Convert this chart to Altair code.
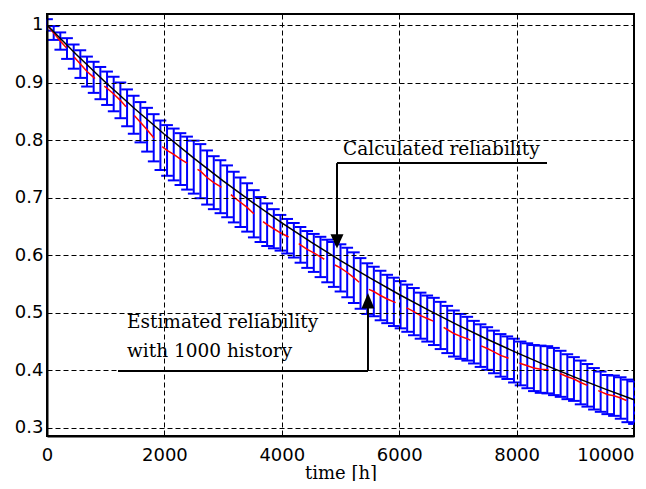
import altair as alt
import pandas as pd

# time points of the Monte-Carlo estimate (h)
times = [0, 114, 227, 341, 455, 568, 682, 795, 909, 1023, 1136, 1250, 1364, 1477, 1591, 1705, 1818, 1932,
         2045, 2159, 2273, 2386, 2500, 2614, 2727, 2841, 2955, 3068, 3182, 3295, 3409, 3523, 3636, 3750,
         3864, 3977, 4091, 4205, 4318, 4432, 4545, 4659, 4773, 4886, 5000, 5114, 5227, 5341, 5455, 5568,
         5682, 5795, 5909, 6023, 6136, 6250, 6364, 6477, 6591, 6705, 6818, 6932, 7045, 7159, 7273, 7386,
         7500, 7614, 7727, 7841, 7955, 8068, 8182, 8295, 8409, 8523, 8636, 8750, 8864, 8977, 9091, 9205,
         9318, 9432, 9545, 9659, 9773, 9886, 10000]

# estimated reliability (red)
estimated = [1.000, 0.986, 0.972, 0.959, 0.945, 0.932, 0.919, 0.909, 0.899, 0.890,
             0.880, 0.869, 0.856, 0.844, 0.831, 0.818, 0.804, 0.791, 0.782, 0.775,
             0.767, 0.760, 0.753, 0.746, 0.735, 0.726, 0.719, 0.711, 0.701, 0.692,
             0.683, 0.672, 0.662, 0.653, 0.646, 0.639, 0.633, 0.626, 0.618, 0.610,
             0.604, 0.597, 0.590, 0.584, 0.578, 0.570, 0.561, 0.551, 0.542, 0.537,
             0.530, 0.524, 0.519, 0.514, 0.508, 0.502, 0.495, 0.490, 0.485, 0.478,
             0.471, 0.464, 0.459, 0.455, 0.449, 0.443, 0.438, 0.432, 0.426, 0.422,
             0.417, 0.412, 0.408, 0.404, 0.402, 0.401, 0.398, 0.394, 0.389, 0.385,
             0.379, 0.374, 0.368, 0.363, 0.358, 0.356, 0.352, 0.347, 0.344]

# half length of the error bars (blue)
half_width = [0.010, 0.012, 0.015, 0.018, 0.021, 0.024, 0.026, 0.027, 0.028, 0.029,
              0.030, 0.031, 0.032, 0.033, 0.035, 0.038, 0.041, 0.043, 0.044, 0.045,
              0.045, 0.046, 0.046, 0.047, 0.047, 0.046, 0.046, 0.045, 0.044, 0.043,
              0.042, 0.041, 0.039, 0.037, 0.034, 0.031, 0.030, 0.030, 0.031, 0.032,
              0.033, 0.035, 0.037, 0.039, 0.041, 0.043, 0.044, 0.044, 0.044, 0.043,
              0.043, 0.042, 0.042, 0.041, 0.041, 0.041, 0.040, 0.040, 0.041, 0.041,
              0.041, 0.040, 0.039, 0.038, 0.037, 0.037, 0.037, 0.037, 0.037, 0.037,
              0.038, 0.038, 0.039, 0.040, 0.041, 0.041, 0.041, 0.040, 0.039, 0.038,
              0.038, 0.037, 0.036, 0.035, 0.034, 0.035, 0.036, 0.037, 0.037]

# calculated reliability (black)
calc_times = [0, 500, 1000, 1500, 2000, 2500, 3000, 3500, 4000, 4500, 5000, 5500, 6000, 6500, 7000,
              7500, 8000, 8500, 9000, 9500, 10000]
calculated = [1.000, 0.9487, 0.9001, 0.8540, 0.8102, 0.7686, 0.7292, 0.6918, 0.6564, 0.6227, 0.5908,
              0.5605, 0.5318, 0.5045, 0.4786, 0.4541, 0.4308, 0.4087, 0.3878, 0.3679, 0.3490]

x_ticks = [0, 2000, 4000, 6000, 8000, 10000]
y_ticks = [0.3, 0.4, 0.5, 0.6, 0.7, 0.8, 0.9, 1.0]

# annotations
ann_lines = [
    {"x": 4940, "x2": 8518, "y": 0.760, "y2": 0.760},
    {"x": 4940, "x2": 4940, "y": 0.760, "y2": 0.630},
    {"x": 1210, "x2": 5468, "y": 0.399, "y2": 0.399},
    {"x": 5468, "x2": 5468, "y": 0.399, "y2": 0.512},
]
ann_down = [{"x": 4940, "y": 0.624}]
ann_up = [{"x": 5468, "y": 0.521}]
ann_text = [
    {"x": 5043, "y": 0.774, "text": "Calculated reliability"},
    {"x": 1363, "y": 0.474, "text": "Estimated reliability"},
    {"x": 1363, "y": 0.423, "text": "with 1000 history"},
]

df = pd.DataFrame({"t": times, "est": estimated, "half": half_width})
dcalc = pd.DataFrame({"t": calc_times, "r": calculated})

xs = alt.Scale(domain=[0, 10000], nice=False, zero=False)
ys = alt.Scale(domain=[0.286, 1.019], nice=False, zero=False)

xaxis = alt.Axis(values=x_ticks, format="d", title="time [h]", grid=True, ticks=False,
                 labelPadding=10, zindex=1, titleY=42, titleBaseline="alphabetic",
                 labelAlign={"condition": {"test": "datum.value == 10000", "value": "right"}, "value": "center"})
yaxis = alt.Axis(values=y_ticks, format="~g", title=None, grid=True, ticks=False,
                 labelPadding=4, zindex=1)


def X(field):
    return alt.X(field, scale=xs, axis=xaxis)


def Y(field):
    return alt.Y(field, scale=ys, axis=yaxis)


base = alt.Chart(df).transform_calculate(
    lo="datum.est - datum.half", hi="datum.est + datum.half",
    a="datum.t - 100", b="datum.t + 100")

blue = "#0000ff"
bars = base.mark_rule(color=blue, strokeWidth=2).encode(x=X("t:Q"), y=Y("lo:Q"), y2="hi:Q")
cap_top = base.mark_rule(color=blue, strokeWidth=2, clip=True).encode(x=X("a:Q"), x2="b:Q", y=Y("hi:Q"))
cap_bot = base.mark_rule(color=blue, strokeWidth=2, clip=True).encode(x=X("a:Q"), x2="b:Q", y=Y("lo:Q"))
red = alt.Chart(df).mark_line(color="#ff0000", strokeWidth=1.5, strokeDash=[30, 12]).encode(
    x=X("t:Q"), y=Y("est:Q"))
black = alt.Chart(dcalc).mark_line(color="black", strokeWidth=1.5).encode(x=X("t:Q"), y=Y("r:Q"))

lines = alt.Chart(pd.DataFrame(ann_lines)).mark_rule(color="black", strokeWidth=2).encode(
    x=X("x:Q"), x2="x2:Q", y=Y("y:Q"), y2="y2:Q")
down = alt.Chart(pd.DataFrame(ann_down)).mark_point(
    shape="M-1,-1.1L1,-1.1L0,1.1Z", size=169, filled=True, color="black", opacity=1).encode(
    x=X("x:Q"), y=Y("y:Q"))
up = alt.Chart(pd.DataFrame(ann_up)).mark_point(
    shape="M-1,1.2L1,1.2L0,-1.2Z", size=169, filled=True, color="black", opacity=1).encode(
    x=X("x:Q"), y=Y("y:Q"))
texts = alt.Chart(pd.DataFrame(ann_text)).mark_text(
    align="left", baseline="alphabetic", font="DejaVu Serif", fontSize=18.5, color="black").encode(
    x=X("x:Q"), y=Y("y:Q"), text="text:N")

chart = alt.layer(bars, cap_top, cap_bot, red, black, lines, down, up, texts).properties(
    width=587, height=422,
    autosize=alt.AutoSizeParams(type="none"),
    padding={"left": 39, "top": 6, "right": 4, "bottom": 45},
    background="white",
).configure_axis(
    labelFont="DejaVu Sans", labelFontSize=18, labelColor="black",
    titleFont="DejaVu Serif", titleFontSize=18, titleColor="black", titleFontWeight="normal",
    domainColor="black", domainWidth=2,
    gridColor="black", gridDash=[5, 3], gridOpacity=1, gridWidth=1,
).configure_view(stroke="black", strokeWidth=2)

chart.save("out.html", embed_options={"renderer": "svg", "actions": False})
